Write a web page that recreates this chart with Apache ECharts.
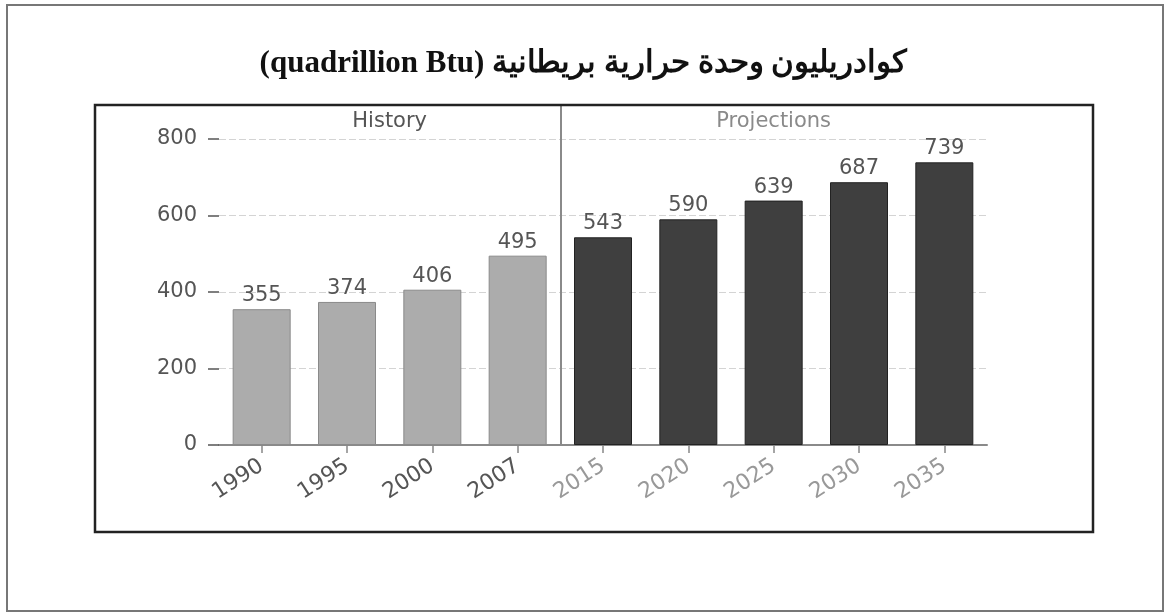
<!DOCTYPE html>
<html>
<head>
<meta charset="utf-8">
<script src="https://cdn.jsdelivr.net/npm/echarts@6/dist/echarts.min.js"></script>
<style>html,body{margin:0;padding:0;background:#fff}#c{width:1167px;height:614px}</style>
</head>
<body>
<div id="c"></div>
<script>
var titleText = "(quadrillion Btu) كوادريليون وحدة حرارية بريطانية";
var years = ["1990","1995","2000","2007","2015","2020","2025","2030","2035"];
var values = [355, 374, 406, 495, 543, 590, 639, 687, 739];
var historyCount = 4;
var periodLabels = ["History", "Projections"];
var yTicks = [0, 200, 400, 600, 800];

var histStyle = {color: "#acacac", borderColor: "#8a8a8a", borderWidth: 1};
var projStyle = {color: "#3f3f3f", borderColor: "#222", borderWidth: 1};
var sans = "DejaVu Sans, Verdana, sans-serif";

var chart = echarts.init(document.getElementById("c"), null, {renderer: "canvas"});
var yMax = 800 * (445 - 105) / (445 - 139);

var option = {
  animation: false,
  backgroundColor: "#fff",
  title: {
    text: titleText,
    left: "center",
    top: 43,
    textStyle: {fontFamily: "Liberation Serif, DejaVu Serif, serif", fontWeight: "bold", fontSize: 31, color: "#111"}
  },
  grid: {left: 219, right: 180, top: 105, bottom: 169},
  xAxis: [{
    type: "category",
    data: years.map(function (y, i) {
      return {value: y, textStyle: {color: i < historyCount ? "#555" : "#999"}};
    }),
    axisLine: {lineStyle: {color: "#8a8a8a", width: 2}},
    axisTick: {show: true, alignWithLabel: true, length: 8, lineStyle: {color: "#888", width: 1.5}},
    axisLabel: {rotate: 33, fontSize: 22, fontFamily: sans, margin: 19, color: "#555"},
    splitLine: {show: false}
  }, {
    type: "value",
    min: 0,
    max: years.length,
    show: false
  }],
  yAxis: {
    type: "value",
    min: 0,
    max: yMax,
    interval: 200,
    axisLine: {show: false},
    axisTick: {show: true, length: 11, lineStyle: {color: "#555", width: 1.5}},
    axisLabel: {
      fontSize: 21, fontFamily: sans, color: "#555", margin: 22,
      showMaxLabel: false,
      formatter: function (v) { return yTicks.indexOf(v) >= 0 ? String(v) : ""; }
    },
    splitLine: {show: true, showMinLine: false, showMaxLine: false, lineStyle: {color: "#d4d4d4", type: [7, 3], width: 1.2}}
  },
  series: [{
    type: "bar",
    barWidth: 58,
    data: values.map(function (v, i) {
      return {value: v, itemStyle: i < historyCount ? histStyle : projStyle};
    }),
    label: {show: true, position: "top", distance: 3, fontSize: 21, fontFamily: sans, color: "#555"},
    markArea: {
      silent: true,
      itemStyle: {color: "rgba(0,0,0,0)"},
      label: {position: "insideTop", distance: 6, fontSize: 21, fontFamily: sans},
      data: [
        [{xAxis: years[0], name: periodLabels[0], label: {color: "#555"}}, {xAxis: years[historyCount - 1]}],
        [{xAxis: years[historyCount], name: periodLabels[1], label: {color: "#8a8a8a"}}, {xAxis: years[years.length - 1]}]
      ]
    }
  }, {
    type: "line",
    xAxisIndex: 1,
    data: [],
    silent: true,
    markLine: {
      silent: true,
      symbol: "none",
      label: {show: false},
      lineStyle: {color: "#8a8a8a", width: 2, type: "solid"},
      data: [{xAxis: historyCount}]
    }
  }],
  graphic: [
    {type: "rect", z: 100, shape: {x: 7, y: 5, width: 1156, height: 606}, style: {fill: "none", stroke: "#777", lineWidth: 2}},
    {type: "rect", z: 100, shape: {x: 95, y: 105, width: 998, height: 427}, style: {fill: "none", stroke: "#222", lineWidth: 2.5}}
  ]
};
chart.setOption(option);
</script>
</body>
</html>
